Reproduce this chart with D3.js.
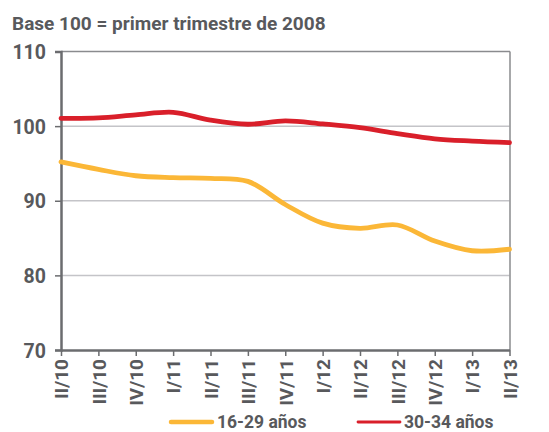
<!DOCTYPE html>
<html><head><meta charset="utf-8">
<script src="https://cdn.jsdelivr.net/npm/d3@7"></script>
<style>body{margin:0;background:#fff}svg{display:block}text{font-family:Roboto,"DejaVu Sans",sans-serif;font-weight:bold;fill:#58595c}</style>
</head><body><svg id="c" width="549" height="432"></svg>
<script>
const categories = ["II/10","III/10","IV/10","I/11","II/11","III/11","IV/11","I/12","II/12","III/12","IV/12","I/13","II/13"];
const young = [95.2,94.2,93.35,93.1,93.0,92.6,89.5,87.0,86.3,86.75,84.6,83.3,83.5];
const adult = [101.05,101.1,101.5,101.85,100.8,100.25,100.7,100.3,99.8,99.0,98.3,98.0,97.8];
const yTicks = [70,80,90,100,110];
const seriesNames = ["16-29 años","30-34 años"];
const colors = ["#fbb737","#d91f2a"];
const title = "Base 100 = primer trimestre de 2008";

const svg = d3.select("#c");
const x = d3.scalePoint().domain(categories).range([61,509.5]);
const y = d3.scaleLinear().domain([70,110]).range([350,51.5]);

svg.append("text").attr("x",12).attr("y",30).attr("font-size",19).text(title);

// gridlines
svg.append("g").selectAll("line").data(yTicks.filter(d=>d>70&&d<110)).join("line")
  .attr("x1",61).attr("x2",509.5).attr("y1",d=>y(d)).attr("y2",d=>y(d))
  .attr("stroke","#c4c4c8").attr("stroke-width",1.5);
// frame top/right
svg.append("line").attr("x1",61).attr("x2",510).attr("y1",y(110)).attr("y2",y(110)).attr("stroke","#8a8b8e").attr("stroke-width",1.5);
svg.append("line").attr("x1",510).attr("x2",510).attr("y1",y(110)).attr("y2",350).attr("stroke","#8a8b8e").attr("stroke-width",1.5);

// y axis
const ya = svg.append("g").attr("transform","translate(61,0)")
  .call(d3.axisLeft(y).tickValues(yTicks).tickSize(6).tickPadding(9));
ya.select(".domain").attr("stroke","#6b6c6f").attr("stroke-width",2.5);
ya.selectAll(".tick line").attr("stroke","#6b6c6f").attr("stroke-width",1.5);
ya.selectAll("text").attr("font-size",19.5).attr("font-family",null).attr("dy","0.36em");

// x axis
const xa = svg.append("g").attr("transform","translate(0,350)")
  .call(d3.axisBottom(x).tickSize(6).tickSizeOuter(0));
xa.select(".domain").attr("stroke","#6b6c6f").attr("stroke-width",2.5);
xa.selectAll(".tick line").attr("stroke","#6b6c6f").attr("stroke-width",1.5);
xa.selectAll("text").attr("font-size",19).attr("font-family",null)
  .attr("text-anchor","end").attr("transform","rotate(-90)")
  .attr("x",-9).attr("y",0).attr("dy","0.36em");

// lines
const line = d3.line().x((d,i)=>x(categories[i])).y(d=>y(d)).curve(d3.curveCatmullRom.alpha(0.5));
[young,adult].forEach((s,i)=>{
  svg.append("path").attr("d",line(s)).attr("fill","none").attr("stroke",colors[i])
    .attr("stroke-width",4.8).attr("stroke-linecap","round").attr("stroke-linejoin","round");
});

// legend
const leg = [{x1:171,x2:212,tx:217,w:4.5},{x1:358,x2:400,tx:404,w:2.8}];
leg.forEach((l,i)=>{
  svg.append("line").attr("x1",l.x1).attr("x2",l.x2).attr("y1",422).attr("y2",422)
    .attr("stroke",colors[i]).attr("stroke-width",l.w).attr("stroke-linecap","round");
  svg.append("text").attr("x",l.tx).attr("y",427.5).attr("font-size",17.5).text(seriesNames[i]);
});
</script></body></html>
